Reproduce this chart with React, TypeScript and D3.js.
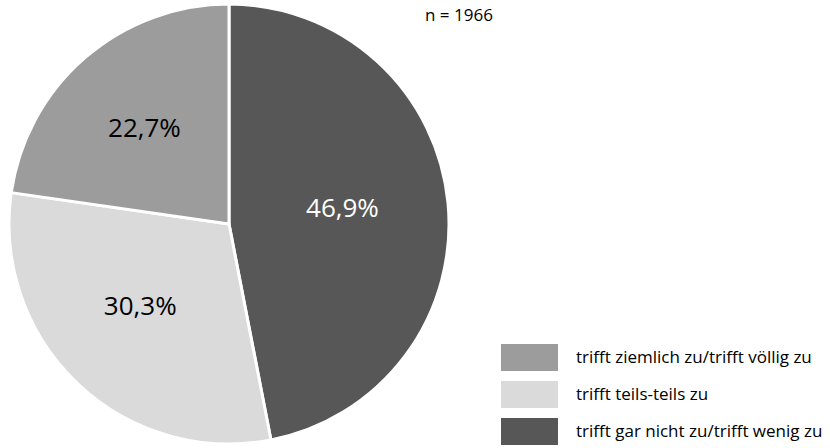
import React from "react";
import * as d3 from "d3";

const categories = [
  "trifft gar nicht zu/trifft wenig zu",
  "trifft teils-teils zu",
  "trifft ziemlich zu/trifft völlig zu",
];
const values = [46.9, 30.3, 22.7];
const colors = ["#575757", "#dadada", "#9c9c9c"];
const labelColors = ["#ffffff", "#000000", "#000000"];
const legendOrder = [2, 1, 0];
const note = "n = 1966";

export default function App() {
  const W = 830, H = 448;
  const cx = 229, cy = 224, r = 220;
  const pie = d3.pie<number>().sort(null).value((d) => d)(values);
  const arc = d3.arc<d3.PieArcDatum<number>>().innerRadius(0).outerRadius(r);
  const labelArc = d3.arc<d3.PieArcDatum<number>>().innerRadius(120).outerRadius(120);
  const fmt = (v: number) => v.toFixed(1).replace(".", ",") + "%";
  const font = "'Open Sans', sans-serif";
  return (
    <svg width={W} height={H} style={{ position: "absolute", left: 0, top: 0, background: "#fff" }}>
      <g transform={`translate(${cx},${cy})`}>
        {pie.map((p, i) => (
          <path key={i} d={arc(p) || ""} fill={colors[i]} stroke="#fff" strokeWidth={3} strokeLinejoin="round" />
        ))}
      </g>
      <g transform={`translate(${cx - 6},${cy - 5})`}>
        {pie.map((p, i) => {
          const [x, y] = labelArc.centroid(p);
          return (
            <text key={"l" + i} x={x} y={y} dy="0.35em" textAnchor="middle" fontSize={26} fontFamily={font} fill={labelColors[i]}>
              {fmt(values[i])}
            </text>
          );
        })}
      </g>
      <text x={425} y={21} fontSize={17} fontFamily={font} fill="#000">{note}</text>
      {legendOrder.map((idx, j) => (
        <g key={"lg" + j} transform={`translate(501,${344 + j * 37})`}>
          <rect width={57} height={27} fill={colors[idx]} />
          <text x={75} y={13.5} dy="0.35em" fontSize={17} fontFamily={font} fill="#000">{categories[idx]}</text>
        </g>
      ))}
    </svg>
  );
}
